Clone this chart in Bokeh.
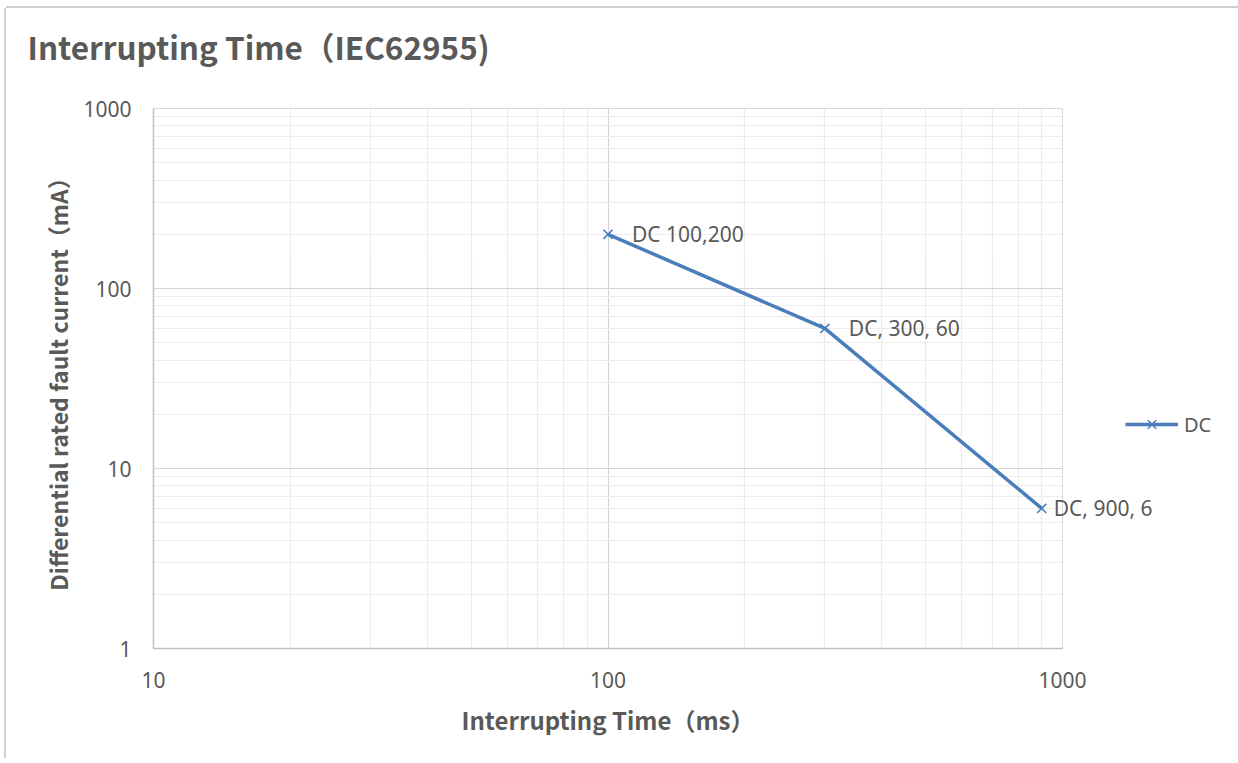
from bokeh.plotting import figure
from bokeh.models import (Label, Legend, LegendItem, ColumnDataSource,
                          FixedTicker, Range1d, NumeralTickFormatter)
from bokeh.embed import file_html
from bokeh.resources import INLINE

# ---- data ----
interrupt_ms = [100, 300, 900]
fault_ma = [200, 60, 6]
point_labels = ["DC 100,200", "DC, 300, 60", "DC, 900, 6"]
series_name = "DC"
x_ticks = [10, 100, 1000]
y_ticks = [1, 10, 100, 1000]
title_text = "Interrupting Time（IEC62955)"
x_title = "Interrupting Time（ms）"
y_title = "Differential rated fault current（mA）"

# ---- style ----
TXT = "#595959"
BLUE = "#4a7ebb"
FONT = "Noto Sans"
CJK = "Noto Sans CJK SC"
label_dx = [24, 24, 12]

x_minor = [m * 10 ** e for e in range(1, 3) for m in range(2, 10)]
y_minor = [m * 10 ** e for e in range(0, 3) for m in range(2, 10)]

p = figure(frame_width=909, frame_height=540,
           x_axis_type="log", y_axis_type="log",
           x_range=Range1d(10, 1000), y_range=Range1d(1, 1000),
           output_backend="svg", toolbar_location=None,
           min_border_left=147, min_border_right=174,
           min_border_top=100, min_border_bottom=110)
p.styles = {"margin-left": "6px", "margin-top": "8px",
            "box-shadow": "-2px 0 0 #cfcfcf, 2px 0 0 #cfcfcf, 0 -2px 0 #cfcfcf"}
p.outline_line_color = "#d9d9d9"
p.background_fill_color = "white"
p.border_fill_color = "white"

p.xaxis.ticker = FixedTicker(ticks=x_ticks, minor_ticks=x_minor)
p.yaxis.ticker = FixedTicker(ticks=y_ticks, minor_ticks=y_minor)
for ax in (p.xaxis, p.yaxis):
    ax.formatter = NumeralTickFormatter(format="0")
    ax.axis_line_color = "#bfbfbf"
    ax.axis_line_width = 1.5
    ax.major_tick_line_color = None
    ax.minor_tick_line_color = None
    ax.major_label_text_font = FONT
    ax.major_label_text_font_size = "21px"
    ax.major_label_text_color = TXT
    ax.axis_label_text_font = CJK
    ax.axis_label_text_font_style = "bold"
    ax.axis_label_text_color = TXT
p.xaxis.axis_label_text_font_size = "24px"
p.yaxis.axis_label_text_font_size = "23px"
p.xaxis.major_label_standoff = 17
p.yaxis.major_label_standoff = 16
p.xaxis.axis_label = x_title
p.yaxis.axis_label = y_title
p.xaxis.axis_label_standoff = 11
p.yaxis.axis_label_standoff = 5

for g in (p.xgrid, p.ygrid):
    g.grid_line_color = "#d4d4d4"
    g.grid_line_width = 1.2
    g.minor_grid_line_color = "#ececec"
    g.minor_grid_line_width = 1.2

src = ColumnDataSource(dict(x=interrupt_ms, y=fault_ma))
ln = p.line("x", "y", source=src, line_color=BLUE, line_width=3.5)
mk = p.scatter("x", "y", source=src, marker="x", size=13, line_color=BLUE, line_width=1.6)

legend = Legend(items=[LegendItem(label=series_name, renderers=[ln, mk])],
                location=(63, 209), padding=0, margin=0, spacing=0,
                glyph_width=53, glyph_height=30, label_height=30, label_standoff=6,
                label_text_font=FONT, label_text_font_size="20px", label_text_color=TXT,
                border_line_color=None, background_fill_alpha=0)
p.add_layout(legend, "right")

for xv, yv, txt, dx in zip(interrupt_ms, fault_ma, point_labels, label_dx):
    p.add_layout(Label(x=xv, y=yv, text=txt, x_offset=dx,
                       text_font=FONT, text_font_size="21px", text_color=TXT,
                       text_baseline="middle", text_align="left"), "right")

# chart title, anchored at the frame's top-left corner
p.add_layout(Label(x=x_ticks[0], y=y_ticks[-1], x_offset=-126, y_offset=63,
                   text=title_text, text_font=CJK, text_font_style="bold",
                   text_font_size="31.5px", text_color=TXT,
                   text_baseline="middle", text_align="left"), "right")

open("out.html", "w").write(file_html(p, INLINE))
